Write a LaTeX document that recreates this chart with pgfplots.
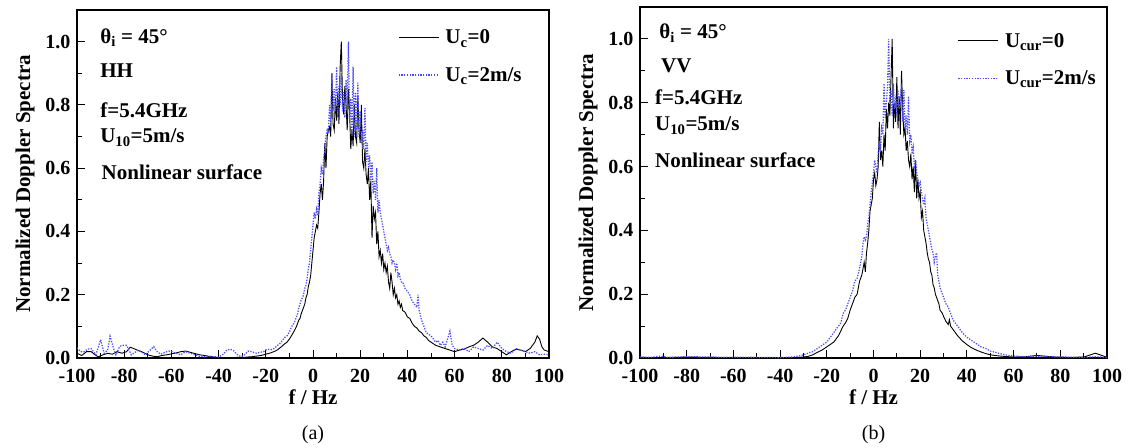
\documentclass[border=0pt]{standalone}
\usepackage{pgfplots}
\pgfplotsset{compat=1.18}
\usepackage{pgfplotstable}
\usepackage{fontspec}
\setmainfont{Liberation Serif}
\definecolor{cblue}{RGB}{75,75,245}

\pgfplotstableread{
x y
-100 0.015
-98 0.008
-96 0.02
-94 0.02
-92 0.008
-91 0.004
-89 0.01
-87 0.015
-85 0.012
-83 0.02
-81 0.015
-79 0.02
-77.5 0.034
-76 0.03
-74.5 0.025
-72 0.018
-70 0.01
-68 0.006
-66 0.004
-64 0.008
-62 0.01
-60 0.013
-58 0.016
-56 0.02
-54 0.022
-52 0.018
-50 0.014
-48 0.01
-46 0.008
-44 0.005
-42 0.003
-40 0.001
-38 0.0
-35 0.001
-32 0.002
-30 0.001
-28 0.003
-26 0.004
-24 0.006
-22 0.008
-20 0.012
-18 0.016
-16 0.022
-15 0.026
-14 0.032
-13 0.038
-12 0.045
-11 0.05
-10 0.06
-9 0.072
-8 0.085
-7 0.1
-6.5 0.11
-6 0.12
-5.5 0.125
-5 0.14
-4.5 0.15
-4 0.16
-3.5 0.17
-3 0.19
-2.5 0.2
-2 0.225
-1.5 0.24
-1 0.26
-0.5 0.3
0 0.34
0.5 0.38
1 0.4
1.5 0.42
2 0.41
2.5 0.46
3 0.52
3.5 0.55
4 0.5
4.5 0.56
5 0.68
5.5 0.6
6 0.7
6.5 0.72
7 0.73
7.5 0.7
8 0.9
8.5 0.74
9 0.72
9.5 0.82
10 0.75
10.5 0.84
11 0.74
11.5 0.92
12 1.0
12.5 0.82
13 0.77
13.5 0.86
14 0.8
14.5 0.72
15 0.85
15.5 0.78
16 0.66
16.5 0.72
17 0.67
17.5 0.8
18 0.7
18.5 0.68
19 0.83
19.5 0.72
20 0.68
20.5 0.8
21 0.62
21.5 0.6
22 0.66
22.5 0.58
23 0.55
23.5 0.6
24 0.5
24.5 0.56
25 0.38
25.5 0.48
26 0.44
26.5 0.46
27 0.36
27.5 0.4
28 0.32
28.5 0.34
29 0.3
29.5 0.33
30 0.28
30.5 0.3
31 0.27
31.5 0.29
32 0.24
32.5 0.22
33 0.27
33.5 0.24
34 0.2
34.5 0.22
35 0.19
35.5 0.2
36 0.17
36.5 0.18
37 0.16
37.5 0.17
38 0.15
39 0.145
40 0.13
41 0.125
42 0.11
43 0.1
44 0.095
45 0.085
46 0.08
47 0.07
48 0.065
49 0.055
50 0.05
52 0.04
54 0.035
56 0.03
58 0.025
60 0.02
62 0.025
64 0.028
66 0.035
68 0.04
70 0.05
72 0.063
74 0.05
76 0.035
78 0.03
80 0.02
82 0.01
84 0.02
86 0.028
88 0.025
90 0.02
92 0.03
94 0.05
95 0.07
96 0.06
97 0.035
98 0.025
100 0.02
}\HHzero

\pgfplotstableread{
x y
-100 0.032
-98.5 0.02
-97 0.02
-95.5 0.028
-94 0.03
-92 0.01
-90 0.058
-88.5 0.015
-87 0.025
-86 0.069
-84.5 0.03
-83.5 0.01
-82 0.035
-81 0.04
-79 0.04
-77 0.01
-75 0.02
-74 0.025
-72 0.015
-71 0.01
-69 0.025
-67.5 0.036
-66 0.02
-64.5 0.012
-62 0.02
-60.5 0.022
-58 0.015
-56 0.01
-54 0.02
-52 0.015
-50 0.01
-48 0.005
-46 0.004
-44 0.006
-42 0.004
-40 0.003
-38 0.012
-36.5 0.025
-35 0.028
-33.5 0.022
-32 0.01
-30.5 0.004
-29 0.01
-27.5 0.022
-26 0.02
-24 0.015
-22.5 0.018
-21 0.02
-19.5 0.028
-18 0.026
-16.5 0.03
-15 0.04
-14 0.046
-13 0.055
-12 0.065
-11 0.07
-10 0.082
-9 0.1
-8 0.11
-7 0.13
-6.5 0.14
-6 0.16
-5.5 0.17
-5 0.185
-4.5 0.19
-4 0.2
-3.5 0.22
-3 0.23
-2.5 0.25
-2 0.28
-1.5 0.3
-1 0.34
-0.5 0.38
0 0.42
0.5 0.46
1 0.44
1.5 0.47
2 0.45
2.5 0.52
3 0.55
3.5 0.6
4 0.58
4.5 0.63
5 0.66
5.5 0.7
6 0.72
6.5 0.71
7 0.8
7.5 0.74
8 0.9
8.5 0.78
9 0.85
9.5 0.78
10 0.92
10.5 0.76
11 0.86
11.5 0.8
12 0.9
12.5 0.78
13 0.84
13.5 0.76
14 0.88
14.5 0.8
15 1.0
15.5 0.76
16 0.82
16.5 0.7
17 0.92
17.5 0.7
18 0.84
18.5 0.72
19 0.87
19.5 0.7
20 0.78
20.5 0.68
21 0.72
21.5 0.66
22 0.79
22.5 0.62
23 0.68
23.5 0.6
24 0.64
24.5 0.56
25 0.62
25.5 0.52
26 0.56
26.5 0.5
27 0.6
27.5 0.46
28 0.5
28.5 0.46
29 0.44
29.5 0.42
30 0.4
30.5 0.38
31 0.36
31.5 0.34
32 0.35
32.5 0.33
33 0.32
33.5 0.3
34 0.31
34.5 0.3
35 0.28
35.5 0.3
36 0.26
36.5 0.27
37 0.25
37.5 0.24
38 0.24
39 0.22
40 0.21
41 0.2
42 0.18
43 0.17
44 0.16
44.5 0.2
45 0.15
46 0.12
47 0.1
48 0.08
49 0.075
50 0.07
51 0.06
52 0.05
53 0.055
54 0.04
55 0.05
56 0.035
57 0.06
58 0.085
59 0.04
60 0.03
62 0.025
64 0.03
66 0.02
68 0.035
70 0.03
72 0.025
74 0.04
76 0.03
78 0.05
80 0.03
82 0.02
84 0.015
86 0.03
88 0.025
90 0.02
92 0.015
94 0.02
96 0.01
98 0.012
100 0.01
}\HHtwo

\pgfplotstableread{
x y
-100 0.002
-90 0.001
-80 0.003
-70 0.002
-60 0.001
-50 0.001
-40 0.0
-35 0.001
-30 0.003
-28 0.005
-26 0.01
-24 0.018
-22 0.025
-20 0.035
-18 0.045
-17 0.05
-16 0.06
-15 0.07
-14 0.085
-13 0.1
-12 0.11
-11 0.125
-10 0.15
-9 0.17
-8 0.19
-7 0.2
-6.5 0.22
-6 0.24
-5.5 0.25
-5 0.26
-4.5 0.28
-4 0.3
-3.5 0.27
-3 0.33
-2.5 0.36
-2 0.4
-1.5 0.46
-1 0.48
-0.5 0.5
0 0.56
0.5 0.58
1 0.54
1.5 0.56
2 0.6
2.5 0.74
3 0.62
3.5 0.65
4 0.6
4.5 0.7
5 0.65
5.5 0.78
6 0.72
6.5 0.8
7 0.76
7.5 0.88
8 1.0
8.5 0.72
9 0.8
9.5 0.74
10 0.88
10.5 0.72
11 0.82
11.5 0.7
12 0.9
12.5 0.78
13 0.7
13.5 0.72
14 0.65
14.5 0.68
15 0.62
15.5 0.6
16 0.64
16.5 0.56
17 0.6
17.5 0.52
18 0.62
18.5 0.5
19 0.56
19.5 0.5
20 0.52
20.5 0.44
21 0.46
21.5 0.4
22 0.38
22.5 0.36
23 0.33
23.5 0.31
24 0.3
24.5 0.27
25 0.26
25.5 0.23
26 0.22
26.5 0.2
27 0.19
27.5 0.18
28 0.17
28.5 0.15
29 0.145
29.5 0.14
30 0.13
31 0.115
32 0.105
32.5 0.12
33 0.1
34 0.09
35 0.08
36 0.07
37 0.062
38 0.054
39 0.048
40 0.042
42 0.032
44 0.025
46 0.019
48 0.014
50 0.01
53 0.007
56 0.005
60 0.003
65 0.004
70 0.008
73 0.006
78 0.003
85 0.002
90 0.003
93 0.01
95 0.015
97 0.01
100 0.002
}\VVzero

\pgfplotstableread{
x y
-100 0.003
-95 0.002
-91 0.006
-88 0.002
-80 0.004
-70 0.003
-60 0.002
-50 0.002
-40 0.001
-35 0.003
-32 0.006
-30 0.01
-28 0.015
-26 0.02
-24 0.03
-22 0.04
-20 0.05
-19 0.06
-18 0.07
-17 0.08
-16 0.09
-15 0.1
-14 0.11
-13 0.14
-12 0.15
-11 0.17
-10 0.19
-9 0.21
-8 0.24
-7 0.25
-6 0.28
-5 0.32
-4.5 0.36
-4 0.38
-3.5 0.37
-3 0.38
-2.5 0.42
-2 0.44
-1.5 0.48
-1 0.52
-0.5 0.55
0 0.58
0.5 0.62
1 0.6
1.5 0.58
2 0.64
2.5 0.68
3 0.65
3.5 0.72
4 0.7
4.5 0.86
5 0.75
5.5 0.8
6 0.85
6.5 1.0
7 0.8
7.5 0.84
8 0.76
8.5 0.86
9 0.78
9.5 0.82
10 0.76
10.5 0.84
11 0.78
11.5 0.8
12 0.86
12.5 0.74
13 0.84
13.5 0.72
14 0.76
14.5 0.7
15 0.82
15.5 0.68
16 0.7
16.5 0.64
17 0.66
17.5 0.6
18 0.62
18.5 0.58
19 0.56
19.5 0.54
20 0.55
20.5 0.52
21 0.5
21.5 0.48
22 0.5
22.5 0.44
23 0.42
23.5 0.4
24 0.38
24.5 0.36
25 0.34
25.5 0.33
26 0.3
26.5 0.32
27 0.33
27.5 0.26
28 0.24
28.5 0.22
29 0.21
29.5 0.2
30 0.19
31 0.17
32 0.16
33 0.14
34 0.12
35 0.11
36 0.1
37 0.09
38 0.08
39 0.072
40 0.065
41 0.06
42 0.055
43 0.05
44 0.045
46 0.035
48 0.03
50 0.022
52 0.018
55 0.012
58 0.008
60 0.006
65 0.004
70 0.006
75 0.004
80 0.003
90 0.002
95 0.004
100 0.002
}\VVtwo

\tikzset{ann/.style={anchor=base west, font=\fontsize{21}{25}\selectfont\bfseries, inner sep=0pt}}

\pgfplotsset{
  dopp/.style={
    scale only axis,
    xmin=-100, xmax=100, ymin=0, ymax=1.1,
    xtick={-100,-80,...,100},
    ytick={0,0.2,...,1.0},
    minor x tick num=1, minor y tick num=1,
    xtick pos=left, ytick pos=left,
    tick align=inside,
    major tick length=8pt, minor tick length=5pt,
    every tick/.style={line width=1pt, black},
    axis line style={line width=1.1pt},
    tick label style={font=\fontsize{20}{24}\selectfont\bfseries},
    /pgf/number format/assume math mode=true,
    yticklabel style={/pgf/number format/fixed, /pgf/number format/fixed zerofill, /pgf/number format/precision=1},
    xticklabel style={/pgf/number format/fixed},
    xticklabel shift=8pt,
    yticklabel shift=3pt,
    label style={font=\fontsize{21}{25}\selectfont\bfseries},
    xlabel={f / Hz},
    ylabel={Normalized Doppler Spectra},
    ylabel shift=4pt,
    clip mode=individual,
    legend cell align=left,
    legend image code/.code={\draw[##1] (0pt,0pt) -- (40pt,0pt);},
    legend style={draw=none, fill=none, anchor=north west,
      font=\fontsize{21}{25}\selectfont\bfseries, row sep=18pt,
      inner sep=0pt, nodes={inner xsep=6pt}},
  },
}

\begin{document}
\begin{tikzpicture}
\useasboundingbox (0,0) rectangle (1134pt,447pt);
\begin{axis}[dopp, at={(77pt,89pt)}, anchor=south west, width=472pt, height=348pt,
  legend style={at={(axis description cs:0.68,0.949)}}]
\addplot[black, line width=0.9pt] table {\HHzero};
\addlegendentry{U\textsubscript{c}=0}
\addplot[cblue, line width=1.25pt, dash pattern=on 1.3pt off 1.4pt] table {\HHtwo};
\addlegendentry{U\textsubscript{c}=2m/s}
\node[ann] at (axis description cs:0.049,0.905) {θ\textsubscript{i} = 45°};
\node[ann] at (axis description cs:0.049,0.805) {HH};
\node[ann] at (axis description cs:0.049,0.6925) {f=5.4GHz};
\node[ann] at (axis description cs:0.049,0.618) {U\textsubscript{10}=5m/s};
\node[ann] at (axis description cs:0.052,0.5115) {Nonlinear surface};
\node[font=\fontsize{20}{24}\selectfont] at (axis description cs:0.5,-0.221) {(a)};
\end{axis}
\begin{axis}[dopp, at={(640pt,89pt)}, anchor=south west, width=467pt, height=351pt,
  legend style={at={(axis description cs:0.68,0.932)}}]
\addplot[black, line width=0.9pt] table {\VVzero};
\addlegendentry{U\textsubscript{cur}=0}
\addplot[cblue, line width=1.25pt, dash pattern=on 1.3pt off 1.4pt] table {\VVtwo};
\addlegendentry{U\textsubscript{cur}=2m/s}
\node[ann] at (axis description cs:0.041,0.909) {θ\textsubscript{i} = 45°};
\node[ann] at (axis description cs:0.045,0.812) {VV};
\node[ann] at (axis description cs:0.032,0.721) {f=5.4GHz};
\node[ann] at (axis description cs:0.032,0.647) {U\textsubscript{10}=5m/s};
\node[ann] at (axis description cs:0.032,0.544) {Nonlinear surface};
\node[font=\fontsize{20}{24}\selectfont] at (axis description cs:0.5,-0.219) {(b)};
\end{axis}
\end{tikzpicture}
\end{document}
